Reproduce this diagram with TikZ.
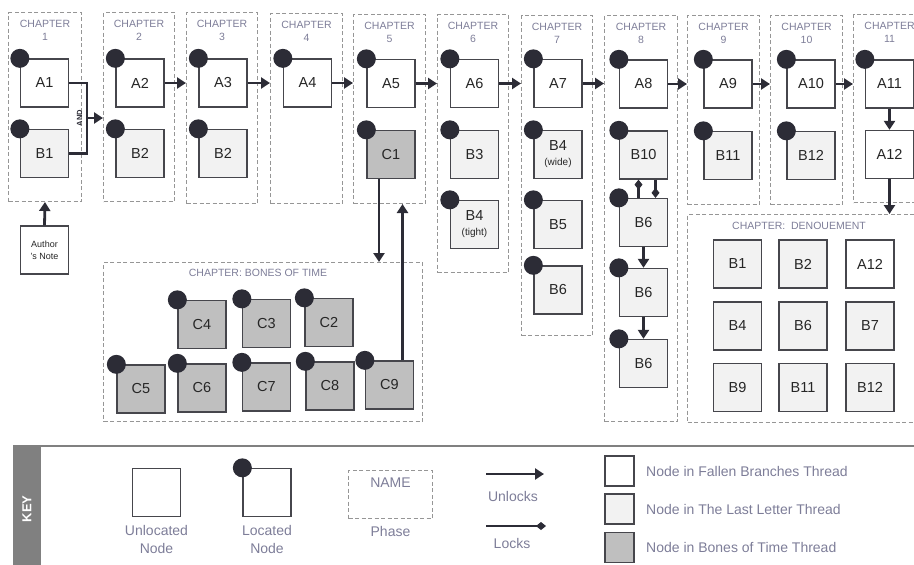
\documentclass[tikz,border=0pt]{standalone}
\usepackage{fontspec}
\setmainfont{Liberation Sans}
\usetikzlibrary{arrows.meta,positioning}
\definecolor{ink}{RGB}{44,44,54}
\definecolor{edgec}{RGB}{70,70,76}
\definecolor{phasec}{RGB}{150,150,150}
\definecolor{ttlc}{RGB}{125,125,152}
\definecolor{llfill}{RGB}{242,242,242}
\definecolor{btfill}{RGB}{191,191,191}
\definecolor{keybar}{RGB}{128,128,128}
\tikzset{
 box/.style={draw=edgec,line width=1.3pt,minimum width=48pt,minimum height=48pt,inner sep=0pt,
  text=black!85,font=\fontsize{14.5}{15}\selectfont,align=center},
 fb/.style={box,fill=white},
 ll/.style={box,fill=llfill},
 bt/.style={box,fill=btfill},
 phase/.style={draw=phasec,line width=1pt,dash pattern=on 4pt off 2.5pt,inner sep=0pt,anchor=north west},
 ttl/.style={text=ttlc,font=\fontsize{10.5}{13}\selectfont,align=center,inner sep=0pt},
 unl/.style={draw=ink,line width=2.8pt,-{Triangle[width=11pt,length=9pt]}},
 lck/.style={draw=ink,line width=2.8pt,-{Diamond[width=8pt,length=10pt]}},
 keytxt/.style={text=ttlc,font=\fontsize{14}{18}\selectfont,align=center,inner sep=0pt},
 swatch/.style={draw=edgec,line width=1.3pt,minimum width=29pt,minimum height=30pt,inner sep=0pt},
}
\begin{document}
\begin{tikzpicture}[x=1pt,y=-1pt,>=Latex]
 \useasboundingbox (0,0) rectangle (914,565);
 \clip (0,0) rectangle (914,565);
 % chapters
 \foreach \n/\x/\y/\w/\h in {1/8/12/73/189,2/103/12/71/189,3/186/12/71/191,4/270/13/72/190,
   5/353/14/72/189,6/437/14/71/258,7/521/15/71/320,8/604/15/73/406,9/687/15/72/189,
   10/770/15/72/189,11/853/14/72/188}{
  \node[phase,minimum width=\w pt,minimum height=\h pt] (ch\n) at (\x,\y) {};
  \node[ttl,below=7.5pt] at (ch\n.north) {CHAPTER\\\n};
 }
 \node[phase,minimum width=319pt,minimum height=159pt] (bones) at (103,262) {};
 \node[ttl] (bonest) at (258,273) {CHAPTER: BONES OF TIME};
 \node[phase,minimum width=240pt,minimum height=208pt] (deno) at (687,214) {};
 \node[ttl] (denot) at (799,226) {CHAPTER:\ \ DENOUEMENT};

 \node[fb] (A1) at (44.5,83) {A1};
 \node[ll] (B1) at (44.5,153.5) {B1};
 \node[fb] (A2) at (140,83) {A2};
 \node[ll] (B2a) at (140,153.5) {B2};
 \node[fb] (A3) at (223,83) {A3};
 \node[ll] (B2b) at (223,153.5) {B2};
 \node[fb] (A4) at (307.5,83) {A4};
 \node[fb] (A5) at (391,83.5) {A5};
 \node[bt] (C1) at (391,154.5) {C1};
 \node[fb] (A6) at (474.5,83.5) {A6};
 \node[ll] (B3) at (474.5,154.5) {B3};
 \node[ll] (B4t) at (474.5,224.5) {B4\\{\fontsize{10}{12}\selectfont (tight)}};
 \node[fb] (A7) at (558,83.5) {A7};
 \node[ll] (B4w) at (558,154.5) {B4\\{\fontsize{10}{12}\selectfont (wide)}};
 \node[ll] (B5) at (558,224.5) {B5};
 \node[ll] (B6g) at (558,290) {B6};
 \node[fb] (A8) at (643.5,84) {A8};
 \node[ll] (B10) at (643.5,155) {B10};
 \node[ll] (B6a) at (643.5,222.5) {B6};
 \node[ll] (B6b) at (643.5,292.5) {B6};
 \node[ll] (B6c) at (643.5,363.5) {B6};
 \node[fb] (A9) at (728,84) {A9};
 \node[ll] (B11) at (728,155.5) {B11};
 \node[fb] (A10) at (811,84) {A10};
 \node[ll] (B12) at (811,155.5) {B12};
 \node[fb] (A11) at (889.5,84) {A11};
 \node[fb] (A12) at (889.5,154.5) {A12};
 \node[fb,minimum height=48pt,font=\fontsize{9}{12}\selectfont] (note) at (44.5,250) {Author\\'s Note};

 \node[bt] (C4) at (202,324.5) {C4};
 \node[bt] (C3) at (266.5,323.5) {C3};
 \node[bt] (C2) at (329,322.5) {C2};
 \node[bt] (C5) at (141,389) {C5};
 \node[bt] (C6) at (202,388) {C6};
 \node[bt] (C7) at (266.5,387) {C7};
 \node[bt] (C8) at (330,386) {C8};
 \node[bt] (C9) at (389.5,385) {C9};

 \foreach \n/\t/\s/\x/\y in {d1/B1/ll/737.5/264,d2/B2/ll/803/264,d3/A12/fb/870/264,
   d4/B4/ll/737.5/326,d5/B6/ll/803/326,d6/B7/ll/870/326,
   d7/B9/ll/737.5/387.5,d8/B11/ll/803/387.5,d9/B12/ll/870/387.5}
  \node[\s] (\n) at (\x,\y) {\t};

 % located
 \foreach \n in {A1,B1,A2,B2a,A3,B2b,A4,A5,C1,A6,B3,B4t,A7,B4w,B5,B6g,A8,B10,B6a,B6b,B6c,
   A9,B11,A10,B12,A11,C2,C3,C4,C5,C6,C7,C8,C9}
  \fill[ink] (\n.north west) circle (9.5pt);

 % unlocks / locks
 \coordinate (and) at (87,118);
 \draw[ink,line width=2.8pt] (A1.east) -| (and) |- (B1.east);
 \node[rotate=90,text=ink,inner sep=0pt,font=\bfseries\fontsize{7.5}{8}\selectfont] (andl) at (79.5,118) {AND};
 \draw[unl] (and) -- (and -| ch2.west);
 \foreach \a/\c in {A2/ch3,A3/ch4,A4/ch5,A5/ch6,A6/ch7,A7/ch8,A8/ch9,A9/ch10,A10/ch11}
  \draw[unl] (\a.east) -- (\a.east -| \c.west);
 \draw[unl] (A11) -- (A12);
 \draw[unl] (A12.south) -- (A12.south |- deno.north);
 \draw[unl] (note.north) -- (ch1.south);
 \draw[unl] ([xshift=-12pt]C1.south) -- ([xshift=-12pt]C1.south |- bones.north);
 \draw[unl] ([xshift=13pt]C9.north) -- ([xshift=13pt]C9.north |- ch5.south);
 \draw[unl] (B6a) -- (B6b);
 \draw[unl] (B6b) -- (B6c);
 \draw[lck] ([xshift=-5pt]B6a.north) -- ([xshift=-5pt]B10.south);
 \draw[lck] ([xshift=12pt]B10.south) -- ([xshift=12pt]B6a.north);

 % key
 \draw[keybar,line width=1.5pt] (13,446) -- (914,446);
 \fill[keybar] (13,446) rectangle (41,565);
 \node[rotate=90,text=white,font=\bfseries\fontsize{13}{14}\selectfont] (keyl) at (27,509) {KEY};
 \node[fb] (ku) at (156.5,492.5) {};
 \node[keytxt,below=8pt of ku] (kut) {Unlocated\\Node};
 \node[fb] (kl) at (267,492.5) {};
 \fill[ink] (kl.north west) circle (9.5pt);
 \node[keytxt,below=8pt of kl] (klt) {Located\\Node};
 \node[phase,minimum width=84pt,minimum height=48pt] (kp) at (348,470) {};
 \node[keytxt,below=8pt] (kpn) at (kp.north) {NAME};
 \node[keytxt,below=7pt of kp] (kpt) {Phase};
 \coordinate (u0) at (486,474);
 \coordinate (u1) at (544,474);
 \draw[unl] (u0) -- (u1);
 \node[keytxt] (kun) at (513,496) {Unlocks};
 \coordinate (l0) at (486,526);
 \coordinate (l1) at (546,526);
 \draw[lck] (l0) -- (l1);
 \node[keytxt] (klk) at (512,543) {Locks};
 \node[swatch,fill=white] (s1) at (619.5,471) {};
 \node[swatch,fill=llfill] (s2) at (619.5,509) {};
 \node[swatch,fill=btfill] (s3) at (619.5,547.5) {};
 \node[keytxt,anchor=west] at (646,471) {Node in Fallen Branches Thread};
 \node[keytxt,anchor=west] at (646,509) {Node in The Last Letter Thread};
 \node[keytxt,anchor=west] at (646,547.5) {Node in Bones of Time Thread};
\end{tikzpicture}
\end{document}
